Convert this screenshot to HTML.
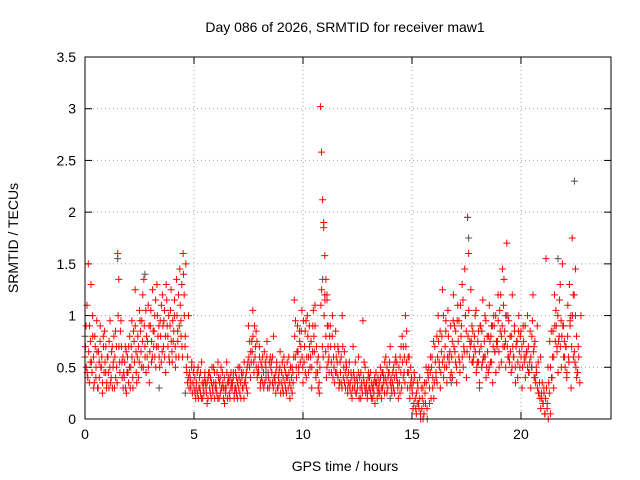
<!DOCTYPE html>
<html><head><meta charset="utf-8"><style>
html,body{margin:0;padding:0;background:#fff}
svg{display:block;font-family:"Liberation Sans",sans-serif}
</style></head><body>
<svg id="chart" width="640" height="480" viewBox="0 0 640 480" xmlns="http://www.w3.org/2000/svg">
<rect x="0" y="0" width="640" height="480" fill="#fff"/>
<text x="345" y="32" font-size="14" text-anchor="middle">Day 086 of 2026, SRMTID for receiver maw1</text>
<text x="18" y="238" font-size="14" text-anchor="middle" transform="rotate(-90 18 238)">SRMTID / TECUs</text>
<text x="345" y="471" font-size="14" text-anchor="middle">GPS time / hours</text>
<g id="grid"></g><g id="ticks"></g><g id="red"></g><g id="gray"></g>
<rect x="85" y="57" width="526" height="362" fill="none" stroke="#000" stroke-width="1"/>
</svg>
<script>
const xTicks=[0,5,10,15,20];
const yTicks=[0,0.5,1,1.5,2,2.5,3,3.5];
const yTickLabels=["0","0.5","1","1.5","2","2.5","3","3.5"];
const binTimes=[0,0.15,0.3,0.45,0.6,0.75,0.9,1.05,1.2,1.35,1.5,1.65,1.8,1.95,2.1,2.25,2.4,2.55,2.7,2.85,3.0,3.15,3.3,3.45,3.6,3.75,3.9,4.05,4.2,4.35,4.5,4.65,4.8,4.95,5.1,5.25,5.4,5.55,5.7,5.85,6.0,6.15,6.3,6.45,6.6,6.75,6.9,7.05,7.2,7.35,7.5,7.65,7.8,7.95,8.1,8.25,8.4,8.55,8.7,8.85,9.0,9.15,9.3,9.45,9.6,9.75,9.9,10.05,10.2,10.35,10.5,10.65,10.8,10.95,11.1,11.25,11.4,11.55,11.7,11.85,12.0,12.15,12.3,12.45,12.6,12.75,12.9,13.05,13.2,13.35,13.5,13.65,13.8,13.95,14.1,14.25,14.4,14.55,14.7,14.85,15.0,15.15,15.3,15.45,15.6,15.75,15.9,16.05,16.2,16.35,16.5,16.65,16.8,16.95,17.1,17.25,17.4,17.55,17.7,17.85,18.0,18.15,18.3,18.45,18.6,18.75,18.9,19.05,19.2,19.35,19.5,19.65,19.8,19.95,20.1,20.25,20.4,20.55,20.7,20.85,21.0,21.15,21.3,21.45,21.6,21.75,21.9,22.05,22.2,22.35,22.5,22.65];
const binValues=[[.6,.9,.45],[1.5,.35,.75],[.55,1.0,.3],[.8,.4,.65],[.3,.55,.9],[.5,.25,.7],[.85,.45,.35],[.6,.3,.95],[.4,.7,.55],[.3,.85,.5],[1.6,1.35,.45],[.95,.55,.3],[.4,.7,.25],[.6,.35,.8],[.5,.95,.3],[.75,1.25,.45],[.6,.4,1.05],[.85,.5,1.2],[1.35,.7,.45],[.6,1.1,.35],[.9,.55,1.25],[.7,1.0,.5],[1.3,.8,.6],[.95,.55,1.2],[.7,1.05,.45],[1.15,.8,.6],[.9,1.25,.55],[.75,1.0,.5],[1.35,.85,.6],[1.45,.95,.7],[1.6,1.2,.8],[.5,.35,1.0],[.45,.3,.55],[.35,.5,.25],[.3,.45,.2],[.4,.25,.55],[.2,.35,.45],[.3,.15,.4],[.45,.25,.35],[.3,.5,.2],[.35,.25,.55],[.2,.4,.3],[.45,.3,.15],[.25,.55,.35],[.35,.2,.45],[.3,.4,.25],[.45,.25,.35],[.3,.5,.2],[.4,.3,.55],[.35,.45,.25],[.9,.5,.65],[.75,1.05,.45],[.6,.85,.4],[.5,.7,.35],[.4,.6,.3],[.35,.5,.75],[.45,.3,.6],[.55,.35,.8],[.4,.25,.5],[.3,.45,.65],[.35,.55,.25],[.5,.3,.4],[.4,.6,.2],[.3,.5,.35],[1.15,.6,.4],[.9,.5,.75],[.7,1.05,.35],[.55,.85,.4],[1.0,.45,.7],[.6,.3,.9],[.8,1.1,.45],[.55,.3,.25],[3.02,2.58,2.12,1.9,1.58,1.35,1.2,.9],[1.85,1.2,.8,.5],[1.15,.7,.45],[.9,.55,1.0],[.6,.35,.85],[.45,.7,.3],[.55,.35,1.0],[.4,.65,.3],[.5,.25,.35],[.3,.45,.2],[.7,.4,.55],[.25,.35,.6],[.4,.2,.3],[.95,.35,.5],[.3,.2,.45],[.4,.25,.35],[.2,.35,.15],[.45,.3,.25],[.35,.5,.2],[.3,.4,.55],[.6,.25,.4],[.45,.7,.3],[.35,.5,.25],[.6,.4,.3],[.5,.25,.7],[.8,.4,.6],[1.0,.55,.3],[.45,.2,.35],[.3,.1,.45],[.2,.05,.35],[.15,.4,.0],[.1,.3,.05],[.25,.5,.0],[.4,.15,.6],[.5,.3,.2],[.7,.45,.35],[1.0,.55,.3],[.65,1.25,.4],[.5,.85,.35],[1.05,.6,.4],[.45,.75,1.2],[.9,.55,.35],[1.1,.6,.45],[.8,1.3,.5],[.65,1.0,.4],[1.95,1.6,.75],[1.25,.9,.55],[.7,1.0,.45],[.55,.85,.35],[.9,.5,1.15],[.6,1.0,.4],[.8,.45,1.1],[.55,.9,.35],[1.0,.65,.45],[.7,1.2,.5],[.85,.55,1.45],[1.1,.7,.5],[1.7,1.0,.6],[.8,.45,1.2],[.6,.9,.35],[.75,.4,1.0],[.5,.85,.3],[.9,.6,.4],[.65,1.0,.45],[.55,.3,.8],[1.2,.7,.4],[.5,.9,.25],[.35,.6,.2],[.15,.3,.05],[1.55,.1,.0],[.25,.05,.4],[.6,.3,.9],[1.05,.7,.45],[.8,1.3,.5],[1.5,.9,.6],[.7,.4,1.1],[.55,.95,.3],[1.75,1.2,.65],[1.45,.8,.45],[.6,.35,1.0]];
const binValues2=[[.7,.5,1.1,.4],[.65,.9,.55,1.3],[.45,.8,.6,.35],[.7,.5,.95,.3],[.65,.4,.75,.5],[.6,.35,.8,.45],[.55,.7,.3,.6],[.45,.75,.5,.35],[.65,.3,.5,.8],[.6,.4,.7,.35],[1.0,.7,.55,.85],[.7,.4,.6,.45],[.55,.3,.65,.45],[.45,.7,.5,.3],[.7,.6,.4,.85],[.55,.9,.65,.35],[.8,.7,.55,.95],[.65,.95,.75,.5],[.9,.6,1.05,.8],[.75,.5,.9,.65],[1.05,.75,.6,.85],[.85,.6,1.15,.7],[1.0,.7,.9,.5],[.8,1.1,.65,.9],[.95,.6,.8,1.3],[.9,.7,1.0,.55],[1.05,.75,.65,.95],[.85,1.15,.7,.6],[1.0,.75,1.2,.9],[1.1,.8,1.3,.6],[1.4,1.0,.7,1.5],[.45,.6,.4,.3],[.4,.35,.5,.25],[.45,.3,.4,.2],[.35,.25,.5,.3],[.3,.45,.2,.35],[.3,.25,.4,.35],[.25,.35,.2,.45],[.3,.4,.2,.5],[.25,.35,.45,.3],[.3,.45,.2,.4],[.35,.25,.5,.3],[.35,.2,.4,.3],[.3,.45,.2,.4],[.25,.4,.3,.35],[.35,.45,.2,.3],[.3,.4,.2,.5],[.4,.25,.35,.45],[.3,.45,.2,.35],[.4,.3,.5,.55],[.6,.75,.4,.55],[.65,.8,.55,.9],[.7,.5,.75,.45],[.45,.6,.3,.55],[.5,.35,.45,.65],[.55,.4,.6,.3],[.4,.55,.35,.5],[.45,.6,.3,.4],[.35,.45,.55,.3],[.4,.35,.5,.25],[.45,.3,.4,.6],[.35,.45,.25,.55],[.3,.45,.35,.5],[.4,.25,.45,.6],[.8,.95,.5,.65],[.65,.45,.85,.55],[.85,.6,.5,.95],[.7,.45,.95,.6],[.8,.6,.9,.5],[.75,.5,.65,1.05],[.65,.9,.4,.7],[.45,.6,.35,.5],[1.1,1.25,.7,.6],[1.0,1.15,.65,.4],[.9,.55,.6,.8],[.7,.45,.8,.4],[.5,.7,.45,.6],[.55,.4,.65,.35],[.45,.6,.3,.7],[.5,.35,.45,.55],[.4,.3,.45,.55],[.35,.25,.4,.3],[.45,.3,.35,.25],[.4,.3,.45,.2],[.3,.45,.35,.25],[.4,.55,.3,.25],[.35,.25,.4,.3],[.3,.45,.2,.3],[.3,.25,.4,.35],[.35,.2,.4,.3],[.25,.4,.3,.45],[.45,.35,.25,.4],[.35,.5,.3,.45],[.55,.35,.4,.25],[.45,.3,.4,.55],[.45,.55,.35,.2],[.35,.6,.45,.3],[.55,.7,.45,.35],[.7,.85,.45,.6],[.6,.3,.5,.4],[.25,.35,.15,.4],[.1,.25,.15,.3],[.1,.2,.05,.3],[.2,.0,.15,.35],[.15,.35,.1,.45],[.5,.3,.45,.2],[.6,.4,.75,.35],[.55,.4,.8,.6],[.75,.5,.85,.45],[.8,.55,1.0,.6],[.7,.95,.5,.6],[.8,.55,.65,.9],[.6,.4,.95,.7],[.65,.85,.5,.95],[.75,.95,.55,1.1],[.9,.6,1.15,.7],[1.45,1.0,.85,.65],[.8,1.05,.6,.7],[.75,.55,.85,.6],[.8,.65,1.05,.5],[.75,.55,.65,.9],[.7,.85,.55,.6],[.75,.6,.95,.5],[.65,.8,.5,.75],[.8,.55,.9,.7],[.9,.65,1.0,.75],[.75,.95,.65,1.05],[1.2,.8,.9,.7],[1.35,.85,.75,1.0],[.7,.6,.95,.55],[.65,.8,.5,.7],[.6,.85,.5,.7],[.75,.55,.85,.65],[.8,.6,.7,.5],[.75,.55,.9,.6],[.65,.5,.7,.45],[.85,.6,.5,.95],[.65,.4,.75,.35],[.45,.3,.55,.25],[.2,.1,.25,.35],[.15,.25,.05,.2],[.3,.15,.5,.35],[.75,.5,.85,.4],[.85,.6,1.2,.75],[.9,.65,1.0,.75],[1.15,.7,.95,.8],[.9,.6,.75,.5],[.7,.45,.8,.6],[1.3,.9,1.0,.7],[1.0,.6,1.2,.55],[.5,.4,.45,.7]];
const grayTimes=[0,1.5,2.75,3.4,4.6,8.3,10.9,14.0,16.8,17.55,17.6,18.1,19.3,20.5,21.7,22.45,22.5];
const grayValues=[0.8,1.55,1.4,0.3,0.25,0.45,1.35,0.2,0.35,1.95,1.75,0.3,1.0,0.5,1.55,2.3,1.0];

const NS="http://www.w3.org/2000/svg";
const X0=85,X1=611,Y0=419,Y1=57,XMAX=24.13,YMAX=3.5;
const xs=t=>X0+(X1-X0)*t/XMAX;
const ys=v=>Y0-(Y0-Y1)*v/YMAX;
function mk(tag,attrs,parent){const e=document.createElementNS(NS,tag);for(const k in attrs)e.setAttribute(k,attrs[k]);parent.appendChild(e);return e;}
const grid=document.getElementById('grid'),ticks=document.getElementById('ticks');
xTicks.forEach((t,i)=>{
  const x=xs(t);
  if(i>0){const g=mk('line',{x1:x,x2:x,y1:Y0,y2:Y1,stroke:'#a0a0a0','stroke-dasharray':'1,3','stroke-width':1},grid);
  
  }
  mk('line',{x1:x,x2:x,y1:Y0,y2:Y0-7,stroke:'#000'},ticks);
  mk('line',{x1:x,x2:x,y1:Y1,y2:Y1+7,stroke:'#000'},ticks);
  const l=mk('text',{x:x,y:Y0+20,'font-size':14,'text-anchor':'middle'},ticks);
  l.textContent=String(t);
  
  
});
yTicks.forEach((v,i)=>{
  const y=ys(v);
  if(i>0&&i<yTicks.length-1){const g=mk('line',{x1:X0,x2:X1,y1:y,y2:y,stroke:'#a0a0a0','stroke-dasharray':'1,3','stroke-width':1},grid);
  
  }
  mk('line',{x1:X0,x2:X0+7,y1:y,y2:y,stroke:'#000'},ticks);
  mk('line',{x1:X1,x2:X1-7,y1:y,y2:y,stroke:'#000'},ticks);
  const l=mk('text',{x:X0-9,y:y+5,'font-size':14,'text-anchor':'end'},ticks);
  l.textContent=yTickLabels[i];
  
  
});
function plus(parent,t,v,color,name){
  const x=xs(t),y=ys(v);
  const p=mk('path',{d:`M${x-3.5},${y}H${x+3.5}M${x},${y-3.5}V${y+3.5}`,stroke:color,'stroke-width':1,fill:'none'},parent);
  
  
}
const gray=document.getElementById('gray'),red=document.getElementById('red');
grayTimes.forEach((t,i)=>plus(gray,t,grayValues[i],'#505050','srmtid-point-gray'));
binTimes.forEach((t,i)=>{(binValues[i]||[]).forEach((v,k)=>plus(red,t+k*0.05,v,'#ff0000','srmtid-point'));});
binTimes.forEach((t,i)=>{(binValues2[i]||[]).forEach((v,k)=>plus(red,t+0.02+k*0.035,v,'#ff0000','srmtid-point'));});
</script>
</body></html>
